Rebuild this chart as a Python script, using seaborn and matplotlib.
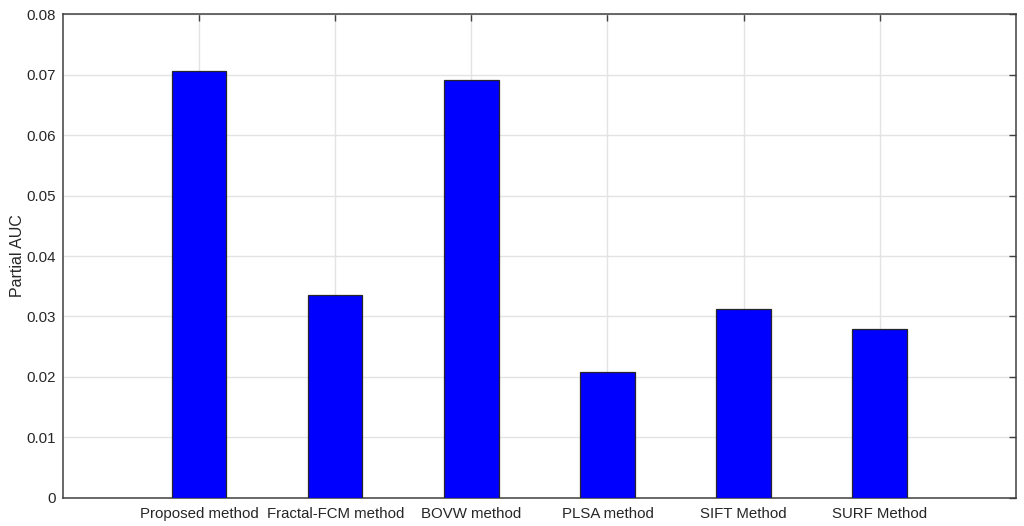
import numpy as np
import pandas as pd
import matplotlib
matplotlib.use("Agg")
import matplotlib.pyplot as plt
import seaborn as sns

methods = ["Proposed method", "Fractal-FCM method", "BOVW method",
           "PLSA method", "SIFT Method", "SURF Method"]
partial_auc = [0.0706, 0.0335, 0.0691, 0.0208, 0.0312, 0.0279]
y_ticks = [0, 0.01, 0.02, 0.03, 0.04, 0.05, 0.06, 0.07, 0.08]
y_tick_labels = ["0", "0.01", "0.02", "0.03", "0.04", "0.05", "0.06", "0.07", "0.08"]

df = pd.DataFrame({"Method": methods, "Partial AUC": partial_auc})

sns.set_style("white")
plt.rcParams['font.family'] = ['Liberation Sans', 'DejaVu Sans']

fig = plt.figure(figsize=(10.24, 5.26), dpi=100)
ax = fig.add_axes([0.0615, 0.0538, 0.9305, 0.919])

sns.barplot(data=df, x="Method", y="Partial AUC", color="#0000ff",
            saturation=1, width=0.4, edgecolor="#262626", linewidth=0.9,
            ax=ax, zorder=3)

ax.set_xlim(-1, 6)
ax.set_ylim(0, 0.08)
ax.set_yticks(y_ticks)
ax.set_yticklabels(y_tick_labels)
ax.set_xlabel("")
ax.set_ylabel("Partial AUC", fontsize=11.5, color="#262626", labelpad=1)

ax.grid(True, color="#e3e3e3", linewidth=1, zorder=0)
ax.set_axisbelow(True)
ax.tick_params(direction="in", length=5, width=1, colors="#404040",
               labelsize=10.8, top=True, right=True)
ax.tick_params(axis="x", pad=7)
ax.tick_params(axis="y", pad=5)
for lbl in ax.get_xticklabels() + ax.get_yticklabels():
    lbl.set_color("#262626")
for s in ax.spines.values():
    s.set_visible(True)
    s.set_color("#404040")
    s.set_linewidth(1.1)

fig.savefig("out.png", dpi=100)
